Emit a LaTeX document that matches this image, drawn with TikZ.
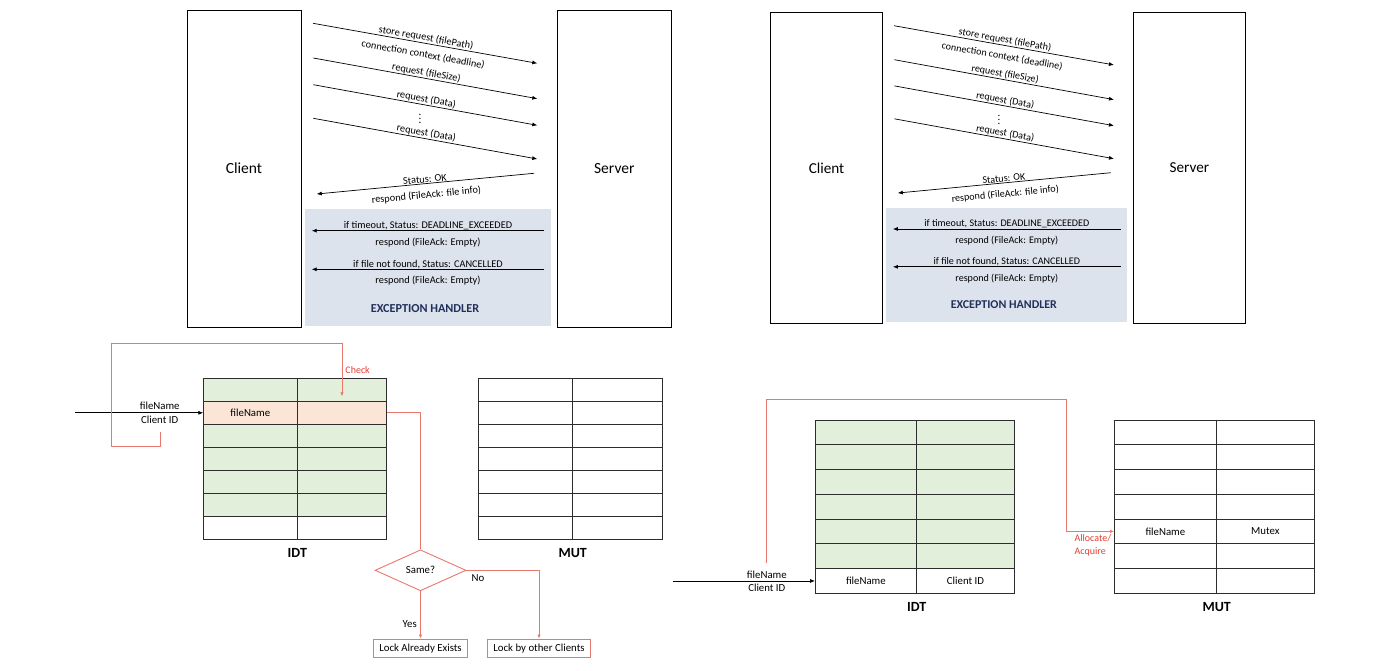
\documentclass[tikz,border=0pt]{standalone}
\usepackage{fontspec}
\setmainfont{Carlito}
\usetikzlibrary{arrows.meta,shapes.geometric,positioning}
\definecolor{idtgreen}{RGB}{226,239,218}
\definecolor{idtpeach}{RGB}{251,229,214}
\definecolor{handlerblue}{RGB}{221,227,237}
\definecolor{handlertext}{RGB}{32,48,90}
\definecolor{lockred}{RGB}{232,120,110}
\definecolor{checkred}{RGB}{230,60,50}
\definecolor{gridline}{RGB}{45,45,45}
\newcommand{\seqfont}{\fontsize{10.3}{12}\selectfont}
\newcommand{\tabfont}{\fontsize{10.8}{13}\selectfont}
% client / server exchange, drawn in pixel units
\newcommand{\seqdiagram}{%
	\node[handler] (handler) at (427.8,267.5) {};
	\node[actor] (client) at (244,168.5) {Client};
	\node[actor] (server) at (614.3,168.5) {Server};
	\node[handlertitle] (htitle) at (425,308.3) {EXCEPTION HANDLER};
	\coordinate (m1a) at (313,23.3);    \coordinate (m1b) at (537.3,63.3);
	\coordinate (m2a) at (313.3,58);    \coordinate (m2b) at (537.3,98.7);
	\coordinate (m3a) at (313.3,84.7);  \coordinate (m3b) at (537.3,125.3);
	\coordinate (m4a) at (313.3,118.3); \coordinate (m4b) at (537.3,159);
	\coordinate (r1a) at (534,173.3);   \coordinate (r1b) at (316.7,194);
	\coordinate (x1a) at (544.3,230.7); \coordinate (x1b) at (311.7,230.7);
	\coordinate (x2a) at (544.3,269.3); \coordinate (x2b) at (311.7,269.3);
	\draw[msg,->] (m1a) -- (m1b)
		node[lab,midway,above,sloped] {store request (filePath)}
		node[labdown,midway,below,sloped] {connection context (deadline)};
	\draw[msg,->] (m2a) -- (m2b) node[lab,midway,above,sloped] {request (fileSize)};
	\draw[msg,->] (m3a) -- (m3b) node[lab,midway,above,sloped] {request (Data)};
	\node[font=\fontsize{11}{12}\selectfont, inner sep=0] (dots) at (420,116) {$\vdots$};
	\draw[msg,->] (m4a) -- (m4b) node[lab,midway,above,sloped] {request (Data)};
	\draw[msg,->] (r1a) -- (r1b)
		node[lab,midway,above,sloped] {Status: OK}
		node[labdown,midway,below,sloped] {respond (FileAck: file info)};
	\draw[msg,->] (x1a) -- (x1b)
		node[lab,midway,above] {if timeout, Status: DEADLINE\_EXCEEDED}
		node[labdown,midway,below] {respond (FileAck: Empty)};
	\draw[msg,->] (x2a) -- (x2b)
		node[lab,midway,above] {if file not found, Status: CANCELLED}
		node[labdown,midway,below] {respond (FileAck: Empty)};
}

\begin{document}
\begin{tikzpicture}[
		x=1pt, y=-1pt,
		>={Latex[length=5pt,width=4pt]},
		actor/.style={draw=black, line width=0.8pt, fill=white, minimum width=114pt,
			minimum height=317pt, inner sep=0, font=\fontsize{15.5}{18}\selectfont},
		handler/.style={fill=handlerblue, minimum width=245.7pt, minimum height=117pt, inner sep=0},
		handlertitle/.style={font=\fontsize{12.2}{14}\selectfont\bfseries, text=handlertext},
		msg/.style={line width=0.7pt, draw=black},
		lab/.style={font=\seqfont, inner sep=0.6pt},
		labdown/.style={font=\seqfont, inner sep=0.6pt, yshift=-6pt},
		cell/.style={draw=gridline, line width=0.8pt, inner sep=0, outer sep=0, anchor=north west},
		tabtext/.style={font=\tabfont},
		inlab/.style={font=\tabfont, inner sep=2.5pt},
		tabtitle/.style={font=\fontsize{14}{16}\selectfont\bfseries, inner sep=0},
		redline/.style={draw=lockred, line width=0.9pt, >={Latex[length=4pt,width=3.5pt]}},
		redlab/.style={font=\fontsize{10}{12.5}\selectfont, text=checkred, inner sep=3pt},
		decision/.style={diamond, draw=lockred, line width=0.9pt, aspect=2.2, minimum width=91pt,
			minimum height=41pt, inner sep=0, font=\tabfont},
		lockbox/.style={draw=lockred, line width=0.9pt, minimum height=18.7pt, inner xsep=6pt,
			inner ysep=0, font=\tabfont}
	]
	\useasboundingbox (0,0) rectangle (1400,671);
	% top row: the two exchanges
	\begin{scope}
		\seqdiagram
	\end{scope}
	\begin{scope}[shift={(587.4,2.9)}, scale=0.98, transform shape]
		\seqdiagram
	\end{scope}

	% bottom left: check the IDT
	\foreach \r/\fc in {1/idtgreen,2/idtpeach,3/idtgreen,4/idtgreen,5/idtgreen,6/idtgreen,7/white} {
		\node[cell, fill=\fc, minimum width=94pt, minimum height=23pt] (idtA-\r-1)
			at (203.3,{378.3+(\r-1)*23}) {};
		\node[cell, fill=\fc, minimum width=89.4pt, minimum height=23pt, anchor=west] (idtA-\r-2)
			at (idtA-\r-1.east) {};
	}
	\node[tabtext] (idtAname) at (idtA-2-1) {fileName};
	\node[tabtitle, below=8.5pt of idtA-7-1.south east] (idtAtitle) {IDT};
	\foreach \r in {1,...,7} {
		\node[cell, fill=white, minimum width=94.4pt, minimum height=23pt] (mutA-\r-1)
			at (478.3,{378.3+(\r-1)*23}) {};
		\node[cell, fill=white, minimum width=89.3pt, minimum height=23pt, anchor=west] (mutA-\r-2)
			at (mutA-\r-1.east) {};
	}
	\node[tabtitle, below=8.5pt of mutA-7-1.south east] (mutAtitle) {MUT};

	\coordinate (inA) at (75,412.8);
	\draw[msg,->] (inA) -- (idtA-2-1.west)
		node[inlab,pos=0.66,above] {fileName}
		node[inlab,pos=0.66,below] {Client ID};
	\coordinate (chkA) at (160,431.7);
	\coordinate (chkB) at (111.7,446);
	\coordinate (chkC) at (111.7,343.3);
	\draw[redline,->] (chkA) |- (chkB) -- (chkC) -| ([yshift=5pt]idtA-1-2.south)
		node[redlab,pos=0.75,right] {Check};

	\node[decision] (same) at (420.5,570.3) {Same?};
	\node[lockbox] (exists) at (420.5,648.3) {Lock Already Exists};
	\node[lockbox] (other) at (539,648.3) {Lock by other Clients};
	\draw[redline] (idtA-2-2.east) -| (same.north);
	\draw[redline,->] (same.south) -- (exists.north)
		node[tabtext,pos=0.7,left] {Yes};
	\draw[redline,->] (same.east) -| (other.north)
		node[tabtext,pos=0.08,below] {No};

	% bottom right: allocate in the MUT
	\foreach \r/\fc in {1/idtgreen,2/idtgreen,3/idtgreen,4/idtgreen,5/idtgreen,6/idtgreen,7/white} {
		\node[cell, fill=\fc, minimum width=101.7pt, minimum height=24.76pt] (idtB-\r-1)
			at (815,{420+(\r-1)*24.76}) {};
		\node[cell, fill=\fc, minimum width=97.6pt, minimum height=24.76pt, anchor=west] (idtB-\r-2)
			at (idtB-\r-1.east) {};
	}
	\node[tabtext] (idtBname) at (idtB-7-1) {fileName};
	\node[tabtext] (idtBclient) at (idtB-7-2) {Client ID};
	\node[tabtitle, below=8.5pt of idtB-7-1.south east] (idtBtitle) {IDT};
	\foreach \r in {1,...,7} {
		\node[cell, fill=white, minimum width=102.7pt, minimum height=24.76pt] (mutB-\r-1)
			at (1114,{420+(\r-1)*24.76}) {};
		\node[cell, fill=white, minimum width=97.3pt, minimum height=24.76pt, anchor=west] (mutB-\r-2)
			at (mutB-\r-1.east) {};
	}
	\node[tabtext] (mutBname) at (mutB-5-1) {fileName};
	\node[tabtext] (mutBmutex) at (mutB-5-2) {Mutex};
	\node[tabtitle, below=8.5pt of mutB-7-1.south east] (mutBtitle) {MUT};

	\coordinate (inB) at (673.3,{420+6.5*24.76});
	\draw[msg,->] (inB) -- (idtB-7-1.west)
		node[inlab,pos=0.66,above] {fileName}
		node[inlab,pos=0.66,below] {Client ID};
	\coordinate (allocA) at (766.7,563.3);
	\coordinate (allocB) at (1066,399);
	\draw[redline,->] (allocA) |- (allocB) |- (mutB-5-1.west)
		node[redlab,pos=0.78,below,align=left] {Allocate/\\Acquire};
\end{tikzpicture}
\end{document}
